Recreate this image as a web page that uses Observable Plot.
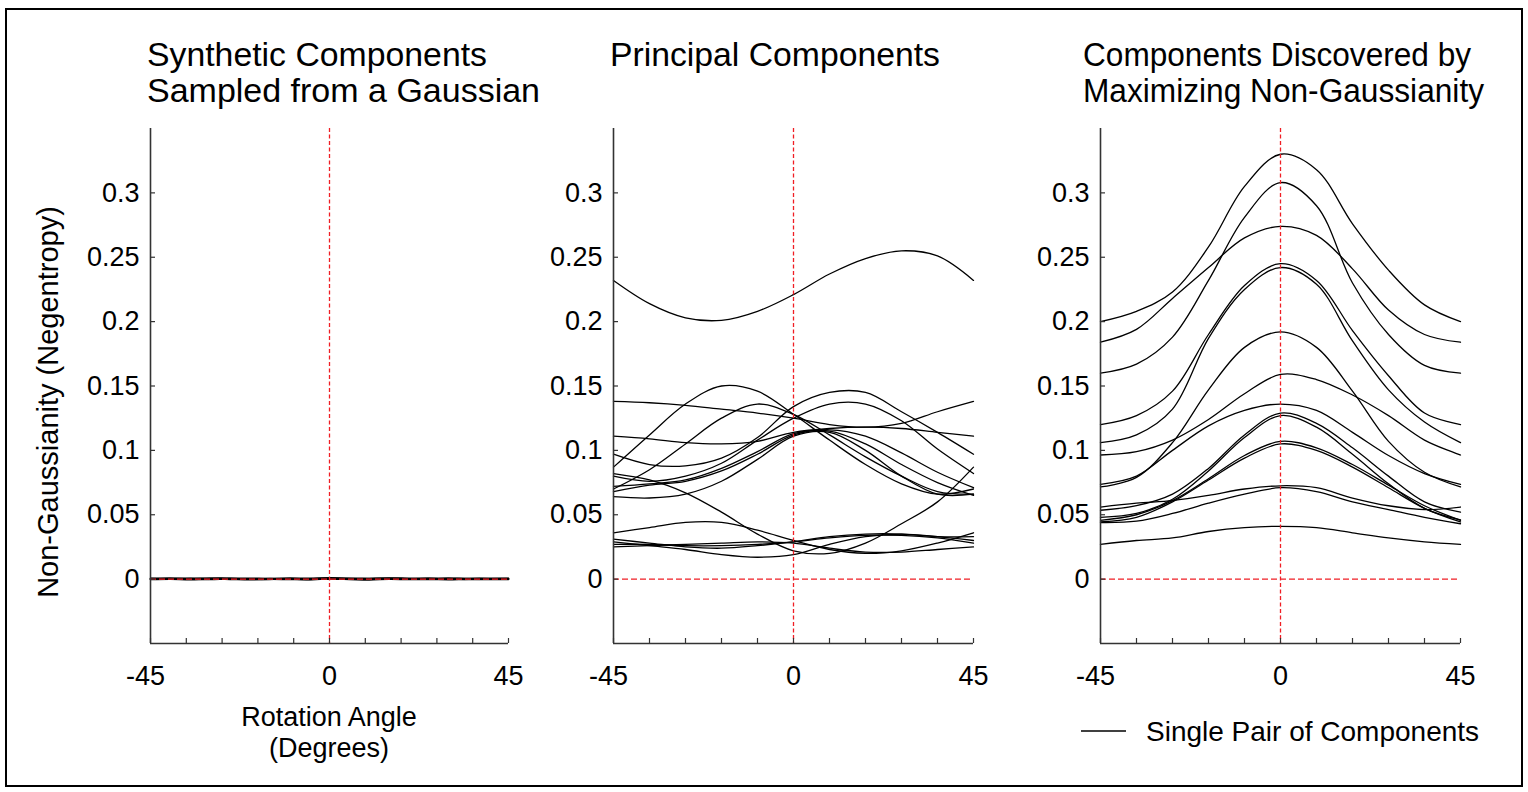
<!DOCTYPE html>
<html><head><meta charset="utf-8">
<script src="https://cdn.jsdelivr.net/npm/d3@7"></script>
<script src="https://cdn.jsdelivr.net/npm/@observablehq/plot@0.6"></script>
<style>
html,body{margin:0;padding:0;background:#fff;}
#fig{position:relative;width:1528px;height:792px;overflow:hidden;font-family:"Liberation Sans",Arial,Helvetica,sans-serif;color:#000;}
#fig svg.ov{position:absolute;left:0;top:0;pointer-events:none;}
</style></head>
<body><div id="fig"></div>
<script>
// ---------- data ----------
const angles = [-45, -36, -27, -18, -9, 0, 9, 18, 27, 36, 45];
const anglesFine = [-45, -40, -35, -30, -25, -20, -15, -10, -5, 0, 5, 10, 15, 20, 25, 30, 35, 40, 45];

// Panel 1: synthetic Gaussian components (near-zero negentropy)
const g1 = [0.0004,0.0002,0.0006,0.0003,0.0005,0.0001,0.0004,0.0002,0.0003,0.0006,0.0002,0.0005,0.0007,0.0003,0.0004,0.0002,0.0005,0.0003,0.0004];
const g2 = [-0.0003,-0.0001,-0.0004,0.0000,-0.0002,-0.0005,-0.0001,-0.0003,-0.0004,0.0001,-0.0002,-0.0006,-0.0001,-0.0003,-0.0002,-0.0004,-0.0001,-0.0003,-0.0002];
const g3 = [0.0001,0.0003,-0.0001,0.0002,0.0004,0.0000,-0.0002,0.0003,0.0001,0.0002,0.0005,0.0001,-0.0001,0.0002,0.0004,0.0000,0.0002,-0.0001,0.0001];
const g4 = [0.0006,0.0008,0.0005,0.0009,0.0006,0.0007,0.0004,0.0008,0.0006,0.0010,0.0007,0.0005,0.0009,0.0007,0.0006,0.0008,0.0005,0.0007,0.0006];
const g5 = [-0.0001,0.0001,0.0000,-0.0002,0.0001,-0.0001,0.0002,0.0000,-0.0002,0.0000,0.0001,-0.0001,0.0002,0.0000,-0.0001,0.0001,-0.0002,0.0000,0.0001];

// Panel 2: principal components
const pc1  = [0.232,0.214,0.203,0.201,0.208,0.221,0.237,0.249,0.255,0.251,0.232];
const pc2  = [0.087,0.112,0.136,0.150,0.146,0.128,0.108,0.089,0.074,0.066,0.070];
const pc3  = [0.070,0.085,0.105,0.125,0.136,0.128,0.112,0.095,0.080,0.068,0.066];
const pc4  = [0.097,0.089,0.088,0.094,0.110,0.134,0.145,0.145,0.130,0.114,0.097];
const pc5  = [0.080,0.076,0.080,0.090,0.108,0.125,0.136,0.136,0.123,0.101,0.082];
const pc6  = [0.082,0.077,0.067,0.052,0.035,0.022,0.020,0.028,0.043,0.060,0.087];
const pc7  = [0.072,0.074,0.077,0.086,0.099,0.113,0.115,0.105,0.089,0.075,0.065];
const pc8  = [0.068,0.073,0.076,0.084,0.097,0.112,0.116,0.111,0.098,0.083,0.071];
const pc9  = [0.064,0.063,0.066,0.076,0.093,0.111,0.114,0.100,0.080,0.066,0.066];
const pc10 = [0.138,0.137,0.135,0.132,0.129,0.125,0.120,0.118,0.121,0.130,0.138];
const pc11 = [0.111,0.109,0.106,0.105,0.107,0.114,0.117,0.118,0.117,0.114,0.111];
const pc12 = [0.036,0.040,0.044,0.044,0.038,0.030,0.023,0.020,0.022,0.028,0.036];
const pc13 = [0.029,0.026,0.023,0.019,0.017,0.019,0.027,0.033,0.035,0.033,0.030];
const pc14 = [0.027,0.027,0.026,0.026,0.027,0.029,0.032,0.034,0.034,0.032,0.028];
const pc15 = [0.025,0.026,0.027,0.028,0.029,0.028,0.024,0.021,0.021,0.023,0.025];
const pc16 = [0.031,0.028,0.025,0.024,0.026,0.029,0.033,0.035,0.035,0.033,0.033];

// Panel 3: components maximizing non-Gaussianity
const ic1  = [0.200,0.208,0.223,0.258,0.305,0.330,0.318,0.276,0.240,0.213,0.200];
const ic2  = [0.184,0.194,0.218,0.242,0.265,0.274,0.267,0.241,0.209,0.190,0.184];
const ic3  = [0.160,0.167,0.188,0.232,0.281,0.308,0.290,0.230,0.190,0.166,0.160];
const ic4  = [0.120,0.127,0.146,0.190,0.228,0.245,0.232,0.193,0.158,0.129,0.120];
const ic5  = [0.106,0.112,0.132,0.187,0.225,0.242,0.229,0.185,0.147,0.122,0.106];
const ic6  = [0.0964,0.099,0.108,0.124,0.144,0.159,0.155,0.143,0.127,0.108,0.0964];
const ic7  = [0.0736,0.080,0.100,0.119,0.131,0.136,0.131,0.114,0.096,0.082,0.0736];
const ic8  = [0.0716,0.079,0.106,0.147,0.180,0.192,0.180,0.146,0.107,0.083,0.0716];
const ic9  = [0.0535,0.057,0.066,0.086,0.112,0.129,0.121,0.102,0.080,0.060,0.052];
const ic10 = [0.048,0.051,0.062,0.084,0.110,0.127,0.118,0.097,0.074,0.055,0.046];
const ic11 = [0.0457,0.050,0.061,0.078,0.096,0.107,0.102,0.089,0.073,0.057,0.0457];
const ic12 = [0.0444,0.048,0.060,0.077,0.094,0.105,0.100,0.087,0.071,0.055,0.0444];
const ic13 = [0.044,0.045,0.051,0.059,0.066,0.071,0.068,0.060,0.054,0.048,0.043];
const ic14 = [0.056,0.059,0.061,0.065,0.070,0.0725,0.071,0.063,0.057,0.054,0.056];
const ic15 = [0.027,0.030,0.032,0.037,0.040,0.041,0.040,0.036,0.032,0.029,0.027];

// Ticks and labels
const yTicks = [0, 0.05, 0.1, 0.15, 0.2, 0.25, 0.3];
const yTickLabels = ["0", "0.05", "0.1", "0.15", "0.2", "0.25", "0.3"];
const xTicks = [-45, -36, -27, -18, -9, 0, 9, 18, 27, 36, 45];
const xLabelTicks = [-45, 0, 45];
const xTickLabels = ["-45", "0", "45"];

const titles = [
  ["Synthetic Components", "Sampled from a Gaussian"],
  ["Principal Components"],
  ["Components Discovered by", "Maximizing Non-Gaussianity"]
];
const yLabel = "Non-Gaussianity (Negentropy)";
const xLabel = ["Rotation Angle", "(Degrees)"];
const legendLabel = "Single Pair of Components";

// ---------- drawing ----------
const FONT = '"Liberation Sans", Arial, Helvetica, sans-serif';
const RED = "#f01e24";
const AX = "#333";
const fig = document.getElementById("fig");
const yLabelMap = new Map(yTicks.map((d, i) => [d, yTickLabels[i]]));
const xLabelMap = new Map(xLabelTicks.map((d, i) => [d, xTickLabels[i]]));

function makePanel(seriesList, xs, left, innerW, lineW) {
  const rows = [];
  seriesList.forEach((vals, k) => vals.forEach((v, j) => rows.push({angle: xs[j], value: v, series: k})));
  const innerH = 515;
  const pxPerDeg = innerW / 90;
  const valPerPx = 0.4 / innerH;
  const svg = Plot.plot({
    width: 90 + innerW + 40,
    height: 10 + innerH + 50,
    marginLeft: 90, marginRight: 40, marginTop: 10, marginBottom: 50,
    x: {domain: [-45, 45]},
    y: {domain: [-0.05, 0.35]},
    style: {fontFamily: FONT, fontSize: "27px", color: "#000", background: "transparent", overflow: "visible"},
    marks: [
      Plot.line(rows, {x: "angle", y: "value", z: "series", stroke: "#000", strokeWidth: lineW, curve: "catmull-rom"}),
      Plot.ruleX([0], {stroke: RED, strokeWidth: 1.3, strokeDasharray: "4,2.5"}),
      Plot.ruleY([0], {stroke: RED, strokeWidth: 1.3, strokeDasharray: "6,3"}),
      Plot.ruleX([-45], {stroke: AX, strokeWidth: 1.6}),
      Plot.ruleY([-0.05], {stroke: AX, strokeWidth: 1.6}),
      Plot.ruleY(yTicks, {y: d => d, x1: -45, x2: -45 + 5 / pxPerDeg, stroke: AX, strokeWidth: 1.2}),
      Plot.ruleX(xTicks, {x: d => d, y1: -0.05, y2: -0.05 + 5 * valPerPx, stroke: AX, strokeWidth: 1.2}),
      Plot.axisY(yTicks, {tickSize: 0, tickPadding: 11, tickFormat: d => yLabelMap.get(d), label: null, fontSize: 27}),
      Plot.axisX([xLabelTicks[0]], {tickSize: 0, tickPadding: 22, dx: -5, tickFormat: d => xLabelMap.get(d), label: null, fontSize: 27}),
      Plot.axisX(xLabelTicks.slice(1), {tickSize: 0, tickPadding: 22, tickFormat: d => xLabelMap.get(d), label: null, fontSize: 27})
    ]
  });
  svg.style.position = "absolute";
  svg.style.left = (left - 90) + "px";
  svg.style.top = "118px";
  fig.appendChild(svg);
}

makePanel([g1, g2, g3, g4, g5], anglesFine, 150, 358, 1.6);
makePanel([pc1, pc2, pc3, pc4, pc5, pc6, pc7, pc8, pc9, pc10, pc11, pc12, pc13, pc14, pc15, pc16], angles, 613, 360, 1.3);
makePanel([ic1, ic2, ic3, ic4, ic5, ic6, ic7, ic8, ic9, ic10, ic11, ic12, ic13, ic14, ic15], angles, 1100, 360, 1.3);

// overlay: frame, titles, axis labels, legend
const titleX = [147, 610, 1083];
const titleW = [[340, 393], [330], [388, 401]];
let ov = `<svg class="ov" width="1528" height="792" xmlns="http://www.w3.org/2000/svg" font-family='${FONT}'>`;
ov += `<rect x="6" y="9" width="1516" height="777" fill="none" stroke="#000" stroke-width="2"/>`;
titles.forEach((lines, i) => {
  lines.forEach((t, j) => {
    ov += `<text x="${titleX[i]}" y="${66 + j * 36}" font-size="34" textLength="${titleW[i][j]}" lengthAdjust="spacingAndGlyphs">${t}</text>`;
  });
});
ov += `<text transform="translate(58,402) rotate(-90)" text-anchor="middle" font-size="29">${yLabel}</text>`;
ov += `<text x="329" y="726" text-anchor="middle" font-size="27">${xLabel[0]}</text>`;
ov += `<text x="329" y="757" text-anchor="middle" font-size="27">${xLabel[1]}</text>`;
ov += `<line x1="1081" x2="1126" y1="731" y2="731" stroke="#000" stroke-width="1.3"/>`;
ov += `<text x="1146" y="741" font-size="28">${legendLabel}</text>`;
ov += `</svg>`;
fig.insertAdjacentHTML("beforeend", ov);
</script>
</body></html>
